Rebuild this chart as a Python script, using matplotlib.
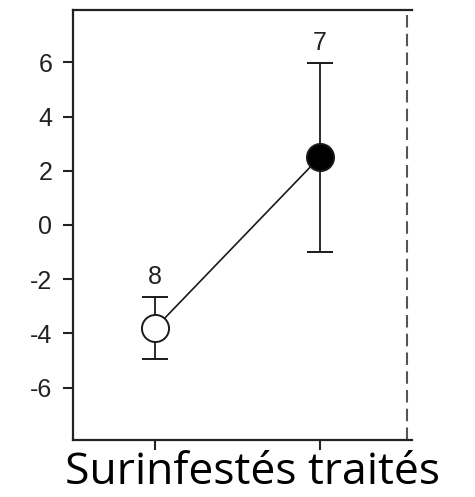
import matplotlib.pyplot as plt

# group means with their error bars and sample sizes
x_pos = [1, 2]
means = [-3.8, 2.5]
errors = [1.15, 3.48]
n_labels = ["8", "7"]
face_colors = ["white", "black"]
y_ticks = [-6, -4, -2, 0, 2, 4, 6]
x_label = "Surinfestés traités"

fig = plt.figure(figsize=(4.75, 4.97), dpi=100)
ax = fig.add_axes([0.1537, 0.1147, 0.7133, 0.8653])

ax.plot(x_pos, means, color="#1a1a1a", lw=1.2, zorder=2)
for x, m, e, fc, n in zip(x_pos, means, errors, face_colors, n_labels):
    ax.errorbar(x, m, yerr=e, fmt="none", ecolor="#1a1a1a", elinewidth=1.3,
                capsize=9.5, capthick=1.4, zorder=1)
    ax.plot(x, m, "o", ms=19.5, mfc=fc, mec="#1a1a1a", mew=1.4, zorder=3)
    ax.text(x, m + e + 0.3, n, ha="center", va="bottom",
            fontsize=18, color="#222222", family="Liberation Sans")

# dashed separator at the right edge
ax.axvline(2.53, color="#555555", lw=1.5, ls=(0, (6, 3)))

ax.set_xlim(0.5, 2.56)
ax.set_ylim(-7.93, 7.93)
ax.set_yticks(y_ticks)
ax.set_yticklabels([str(v) for v in y_ticks], family="Liberation Sans",
                   fontsize=18, color="#222222")
ax.set_xticks(x_pos)
ax.set_xticklabels(["", ""])
ax.tick_params(direction="out", length=7, width=1.5, color="#222222", pad=8)

for side in ["left", "top", "bottom"]:
    ax.spines[side].set_linewidth(1.6)
    ax.spines[side].set_color("#222222")
ax.spines["right"].set_visible(False)

fig.text(0.5316, 0.026, x_label, ha="center", va="baseline",
         fontsize=32, family="Open Sans", color="black")

fig.savefig("out.png", dpi=100)
